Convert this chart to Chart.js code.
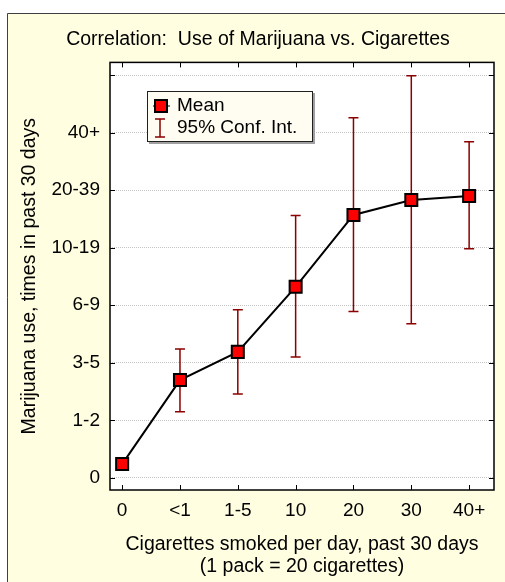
<!DOCTYPE html>
<html>
<head>
<meta charset="utf-8">
<script src="https://cdn.jsdelivr.net/npm/chart.js@4/dist/chart.umd.min.js"></script>
<style>
html,body{margin:0;padding:0;background:#fff;}
canvas{display:block;}
</style>
</head>
<body>
<canvas id="c" width="505" height="582"></canvas>
<script>
const xLabels = ['0', '<1', '1-5', '10', '20', '30', '40+'];
const yLabels = ['0', '1-2', '3-5', '6-9', '10-19', '20-39', '40+', ''];
const means  = [0.24, 1.70, 2.19, 3.32, 4.57, 4.83, 4.90];
const ciLow  = [null, 1.15, 1.46, 2.10, 2.89, 2.68, 3.98];
const ciHigh = [null, 2.24, 2.92, 4.56, 6.26, 6.99, 5.84];

const FONT = 'Liberation Sans, Arial, Helvetica, sans-serif';
const CI_COLOR = '#8b0000';

const framePlugin = {
  id: 'frame',
  beforeDraw(chart) {
    const ctx = chart.ctx, a = chart.chartArea;
    ctx.save();
    ctx.fillStyle = '#ffffff';
    ctx.fillRect(0, 0, chart.width, chart.height);
    ctx.fillStyle = '#fffee0';
    ctx.fillRect(7, 13, chart.width - 7, chart.height - 13);
    ctx.strokeStyle = '#404040';
    ctx.lineWidth = 1;
    ctx.beginPath();
    ctx.moveTo(7.5, chart.height);
    ctx.lineTo(7.5, 13.5);
    ctx.lineTo(chart.width, 13.5);
    ctx.stroke();
    ctx.fillStyle = '#ffffff';
    ctx.fillRect(a.left, a.top, a.right - a.left, a.bottom - a.top);
    ctx.restore();
  },
  beforeDatasetsDraw(chart) {
    const ctx = chart.ctx, xs = chart.scales.x, ys = chart.scales.y;
    ctx.save();
    ctx.strokeStyle = CI_COLOR;
    ctx.lineWidth = 1.5;
    for (let i = 0; i < means.length; i++) {
      if (ciLow[i] == null) continue;
      const x = xs.getPixelForValue(i);
      const y1 = ys.getPixelForValue(ciLow[i]);
      const y2 = ys.getPixelForValue(ciHigh[i]);
      ctx.beginPath();
      ctx.moveTo(x, y1); ctx.lineTo(x, y2);
      ctx.moveTo(x - 5, y1); ctx.lineTo(x + 5, y1);
      ctx.moveTo(x - 5, y2); ctx.lineTo(x + 5, y2);
      ctx.stroke();
    }
    ctx.restore();
  },
  afterDraw(chart) {
    const ctx = chart.ctx, a = chart.chartArea, xs = chart.scales.x, ys = chart.scales.y;
    ctx.save();
    ctx.strokeStyle = '#000';
    ctx.lineWidth = 1.5;
    ctx.strokeRect(a.left, a.top, a.right - a.left, a.bottom - a.top);
    ctx.lineWidth = 1;
    ctx.beginPath();
    for (let i = 0; i < xLabels.length; i++) {
      const x = Math.round(xs.getPixelForValue(i)) + 0.5;
      ctx.moveTo(x, a.bottom); ctx.lineTo(x, a.bottom - 5);
      ctx.moveTo(x, a.top); ctx.lineTo(x, a.top + 5);
    }
    for (let j = 0; j < yLabels.length; j++) {
      const y = Math.round(ys.getPixelForValue(j)) + 0.5;
      ctx.moveTo(a.left, y); ctx.lineTo(a.left + 5, y);
      ctx.moveTo(a.right, y); ctx.lineTo(a.right - 5, y);
    }
    ctx.stroke();
    // legend
    const lx = 147, ly = 91, lw = 166, lh = 51;
    ctx.fillStyle = '#a0a0a0';
    ctx.fillRect(lx + 2, ly + 2, lw, lh);
    ctx.fillStyle = '#fffdf2';
    ctx.fillRect(lx, ly, lw, lh);
    ctx.strokeStyle = '#202020';
    ctx.lineWidth = 1;
    ctx.strokeRect(lx + 0.5, ly + 0.5, lw - 1, lh - 1);
    ctx.strokeStyle = '#000';
    ctx.lineWidth = 1;
    ctx.beginPath();
    ctx.moveTo(153, 106); ctx.lineTo(170, 106);
    ctx.stroke();
    ctx.fillStyle = '#ff0000';
    ctx.fillRect(155, 100, 12, 12);
    ctx.lineWidth = 2;
    ctx.strokeRect(155, 100, 12, 12);
    ctx.strokeStyle = CI_COLOR;
    ctx.lineWidth = 1.5;
    ctx.beginPath();
    ctx.moveTo(160, 119); ctx.lineTo(160, 137);
    ctx.moveTo(155, 119); ctx.lineTo(165, 119);
    ctx.moveTo(155, 137); ctx.lineTo(165, 137);
    ctx.stroke();
    ctx.fillStyle = '#000';
    ctx.font = '19px ' + FONT;
    ctx.textBaseline = 'middle';
    ctx.textAlign = 'left';
    ctx.fillText('Mean', 177, 106);
    ctx.fillText('95% Conf. Int.', 177, 128);
    ctx.restore();
  }
};

new Chart(document.getElementById('c'), {
  type: 'line',
  data: {
    datasets: [{
      label: 'Mean',
      data: means.map((v, i) => ({x: i, y: v})),
      borderColor: '#000',
      borderWidth: 2,
      pointStyle: 'rect',
      pointRadius: 8.5,
      pointHoverRadius: 8.5,
      pointBackgroundColor: '#ff0000',
      pointBorderColor: '#000',
      pointBorderWidth: 2,
      tension: 0,
      fill: false
    }]
  },
  options: {
    responsive: false,
    animation: false,
    events: [],
    layout: {padding: {left: 22, right: 11, top: 0, bottom: 0}},
    plugins: {
      legend: {display: false},
      tooltip: {enabled: false},
      title: {
        display: true,
        text: 'Correlation:  Use of Marijuana vs. Cigarettes',
        color: '#000',
        font: {family: FONT, size: 19.5, weight: 'normal', lineHeight: 1.2},
        padding: {top: 28, bottom: 11}
      }
    },
    scales: {
      x: {
        type: 'linear',
        min: -0.21,
        max: 6.43,
        afterFit(s) { s.height = 92; },
        afterBuildTicks(s) { s.ticks = xLabels.map((_, i) => ({value: i})); },
        ticks: {
          color: '#000',
          font: {family: FONT, size: 19},
          padding: 9,
          maxRotation: 0,
          autoSkip: false,
          callback: (v) => xLabels[v] !== undefined ? xLabels[v] : ''
        },
        grid: {display: false, drawTicks: false},
        border: {display: false},
        title: {
          display: true,
          text: ['Cigarettes smoked per day, past 30 days', '(1 pack = 20 cigarettes)'],
          color: '#000',
          font: {family: FONT, size: 19.5, lineHeight: 1.13},
          padding: {top: 0, bottom: 4}
        }
      },
      y: {
        type: 'linear',
        min: -0.21,
        max: 7.22,
        afterFit(s) { s.width = 88; },
        afterBuildTicks(s) { s.ticks = yLabels.map((_, j) => ({value: j})); },
        ticks: {
          color: '#000',
          font: {family: FONT, size: 19},
          padding: 10,
          autoSkip: false,
          callback: (v) => yLabels[v] !== undefined ? yLabels[v] : ''
        },
        grid: {color: '#c4c4c4', lineWidth: 1, drawTicks: false},
        border: {display: false, dash: [1, 1]},
        title: {
          display: true,
          text: 'Marijuana use, times in past 30 days',
          color: '#000',
          font: {family: FONT, size: 19.5, lineHeight: 1.2},
          padding: {top: -3.7, bottom: 0}
        }
      }
    }
  },
  plugins: [framePlugin]
});
</script>
</body>
</html>
